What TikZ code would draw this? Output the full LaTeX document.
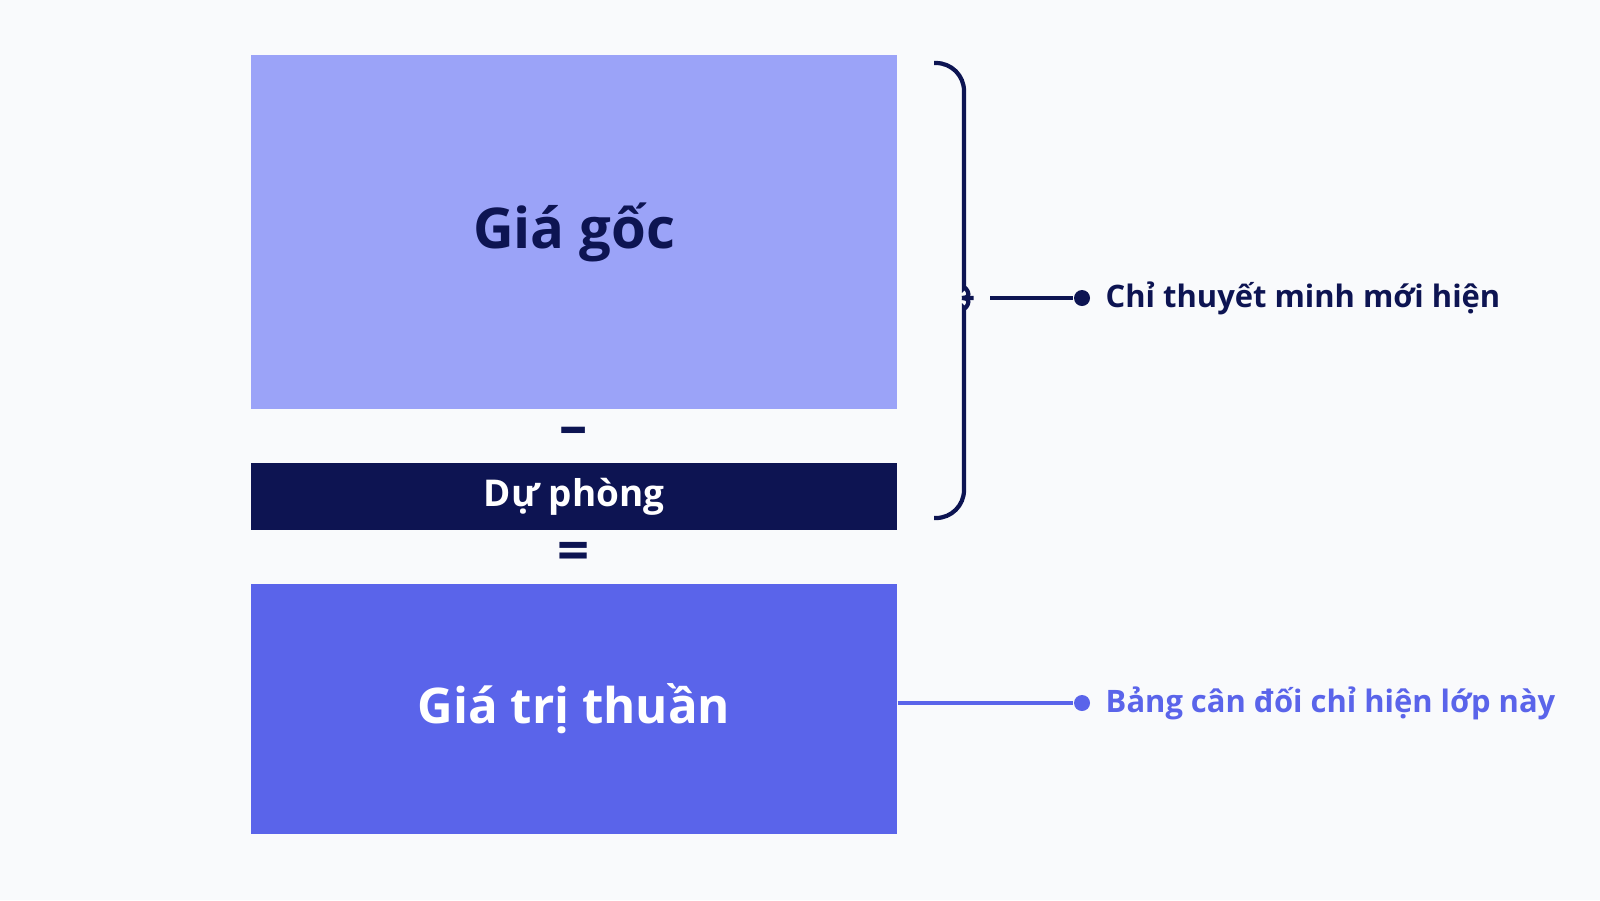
\documentclass[tikz,border=0pt]{standalone}
\usepackage{fontspec}
\setmainfont{Open Sans}
\usepackage{xcolor}
\definecolor{bgc}{HTML}{F9FAFC}
\definecolor{lite}{HTML}{9BA3F8}
\definecolor{navy}{HTML}{0D1452}
\definecolor{mid}{HTML}{5A64EA}
\usetikzlibrary{positioning, calc}
\tikzset{
  layer/.style={rectangle, inner sep=0pt, minimum width=6.46cm},
  note/.style={right, inner sep=0pt, font=\fontsize{8.8}{11}\selectfont\bfseries},
  pin/.style={circle, fill, inner sep=0pt, minimum size=0.16cm}
}
\begin{document}
\begin{tikzpicture}
    \fill[bgc] (0,0) rectangle (16,-9);
    \useasboundingbox (0,0) rectangle (16,-9);

    % layers
    \node[layer, fill=lite, minimum height=3.54cm, text=navy,
      font=\fontsize{16}{19}\selectfont\bfseries] (cost) at (5.74,-2.32) {Giá gốc};
    \node[layer, fill=navy, minimum height=0.67cm, text=white,
      font=\fontsize{10.5}{13}\selectfont\bfseries] (prov) at (5.74,-4.965) {Dự phòng};
    \node[layer, fill=mid, minimum height=2.5cm, text=white,
      font=\fontsize{14}{17}\selectfont\bfseries] (net) at (5.74,-7.09) {Giá trị thuần};

    % operators
    \node[text=navy, font=\fontsize{16}{18}\selectfont\bfseries] (minus) at (5.74,-4.36) {--};
    \node[text=navy, font=\fontsize{16}{18}\selectfont\bfseries] (eq) at (5.74,-5.56) {=};

    % brace
    \coordinate (btop) at (9.34,-0.63);
    \coordinate (bbot) at (9.34,-5.18);
    \coordinate (bmid) at (9.9,-2.98);
    \draw[navy, line width=1.2pt, rounded corners=0.28cm]
      (btop) -- (9.64,-0.63) -- (9.64,-2.6)
      .. controls (9.64,-2.85) and (9.75,-2.98) .. (bmid)
      .. controls (9.75,-2.98) and (9.64,-3.11) .. (9.64,-3.36)
      -- (9.64,-5.18) -- (bbot);
    \node[pin, fill=navy] (p1) at (10.82,-2.98) {};
    \draw[navy, line width=1.2pt] (bmid) -- (p1);
    \node[note, text=navy] (t1) at (11.05,-2.98) {Chỉ thuyết minh mới hiện};

    % net value note
    \node[pin, fill=mid] (p2) at (10.82,-7.03) {};
    \draw[mid, line width=1.2pt] (net.east |- p2) -- (p2);
    \node[note, text=mid] (t2) at (11.05,-7.03) {Bảng cân đối chỉ hiện lớp này};
\end{tikzpicture}
\end{document}
